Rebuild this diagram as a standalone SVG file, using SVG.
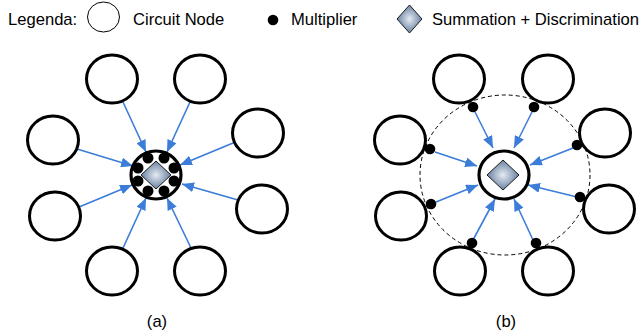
<svg xmlns="http://www.w3.org/2000/svg" width="639" height="333" viewBox="0 0 639 333">
<style>
.node{fill:#fff;stroke:#000;stroke-width:3}
.hub{fill:#fff;stroke:#000;stroke-width:3.2}
.dot{fill:#000}
.dia{fill:url(#g);stroke:#1a1a1a;stroke-width:1}
.arr{stroke:#3b7dd8;stroke-width:1.6;fill:none;marker-end:url(#ah)}
.t{font-family:"Liberation Sans",Arial,sans-serif;font-size:16.6px;fill:#000}
</style>
<defs>
<radialGradient id="g" cx="50%" cy="50%" r="60%">
<stop offset="0" stop-color="#e6ebf1"/>
<stop offset="1" stop-color="#4d6b92"/>
</radialGradient>
<marker id="ah" markerUnits="userSpaceOnUse" markerWidth="12" markerHeight="10" refX="12" refY="5" orient="auto">
<path d="M0,0 L12,5 L0,10 z" fill="#3b7dd8"/>
</marker>
</defs>
<rect width="639" height="333" fill="#fff"/>
<g id="legend">
<text class="t" x="8" y="25">Legenda:</text>
<ellipse cx="103.5" cy="17" rx="16" ry="15" fill="#fff" stroke="#000" stroke-width="1"/>
<text class="t" x="133" y="25">Circuit Node</text>
<circle class="dot" cx="273" cy="20" r="5.3"/>
<text class="t" x="291" y="25">Multiplier</text>
<path class="dia" d="M409.5,5 L422,19 L409.5,33 L397,19 z"/>
<text class="t" x="432" y="25">Summation + Discrimination</text>
</g>
<g id="connectors">
<line class="arr" x1="123" y1="102" x2="146" y2="152"/>
<line class="arr" x1="190" y1="102" x2="167" y2="152"/>
<line class="arr" x1="77" y1="149" x2="133" y2="166"/>
<line class="arr" x1="79" y1="207" x2="132" y2="185"/>
<line class="arr" x1="233" y1="143" x2="180" y2="165"/>
<line class="arr" x1="238" y1="200" x2="182" y2="184"/>
<line class="arr" x1="123" y1="248" x2="146" y2="198"/>
<line class="arr" x1="191" y1="248" x2="167" y2="198"/>
<line class="arr" x1="475" y1="112" x2="493" y2="148"/>
<line class="arr" x1="532" y1="112" x2="514" y2="148"/>
<line class="arr" x1="435" y1="152" x2="477" y2="166"/>
<line class="arr" x1="436" y1="202" x2="478" y2="185"/>
<line class="arr" x1="573" y1="148" x2="530" y2="165"/>
<line class="arr" x1="577" y1="197" x2="528" y2="185"/>
<line class="arr" x1="473" y1="240" x2="495" y2="199"/>
<line class="arr" x1="533" y1="240" x2="514" y2="199"/>
</g>
<g id="diagram-a">
<g id="a-n1"><ellipse class="node" cx="112" cy="79" rx="25.5" ry="24"/></g>
<g id="a-n2"><ellipse class="node" cx="200" cy="79" rx="25.5" ry="24"/></g>
<g id="a-n3"><ellipse class="node" cx="53" cy="140" rx="25.5" ry="24"/></g>
<g id="a-n4"><ellipse class="node" cx="258" cy="133" rx="25.5" ry="24"/></g>
<g id="a-n5"><ellipse class="node" cx="55" cy="216" rx="25.5" ry="24"/></g>
<g id="a-n6"><ellipse class="node" cx="262" cy="209" rx="25.5" ry="24"/></g>
<g id="a-n7"><ellipse class="node" cx="112" cy="271" rx="25.5" ry="24"/></g>
<g id="a-n8"><ellipse class="node" cx="200" cy="271" rx="25.5" ry="24"/></g>
<g id="a-hub">
<ellipse class="hub" cx="156" cy="175" rx="25" ry="24"/>
<circle class="dot" cx="148" cy="158" r="5.5"/>
<circle class="dot" cx="164" cy="158" r="5.5"/>
<circle class="dot" cx="174" cy="168" r="5.5"/>
<circle class="dot" cx="174" cy="181" r="5.5"/>
<circle class="dot" cx="164" cy="191" r="5.5"/>
<circle class="dot" cx="148" cy="191" r="5.5"/>
<circle class="dot" cx="138" cy="181" r="5.5"/>
<circle class="dot" cx="138" cy="168" r="5.5"/>
<path class="dia" d="M156,161 L171,175 L156,189 L141,175 z"/>
</g>
<text class="t" x="157" y="327" text-anchor="middle">(a)</text>
</g>
<g id="diagram-b">
<ellipse cx="505" cy="175" rx="85" ry="80" fill="none" stroke="#000" stroke-width="1" stroke-dasharray="4,3"/>
<g id="b-n1"><ellipse class="node" cx="459" cy="79" rx="25.5" ry="24"/></g>
<g id="b-n2"><ellipse class="node" cx="548" cy="79" rx="25.5" ry="24"/></g>
<g id="b-n3"><ellipse class="node" cx="400" cy="140" rx="25.5" ry="24"/></g>
<g id="b-n4"><ellipse class="node" cx="605" cy="133" rx="25.5" ry="24"/></g>
<g id="b-n5"><ellipse class="node" cx="401" cy="216" rx="25.5" ry="24"/></g>
<g id="b-n6"><ellipse class="node" cx="609" cy="209" rx="25.5" ry="24"/></g>
<g id="b-n7"><ellipse class="node" cx="460" cy="271" rx="25.5" ry="24"/></g>
<g id="b-n8"><ellipse class="node" cx="548" cy="271" rx="25.5" ry="24"/></g>
<g id="b-mult">
<circle class="dot" cx="473" cy="107" r="5.3"/>
<circle class="dot" cx="534" cy="107" r="5.3"/>
<circle class="dot" cx="430" cy="149" r="5.3"/>
<circle class="dot" cx="577" cy="145" r="5.3"/>
<circle class="dot" cx="431" cy="204" r="5.3"/>
<circle class="dot" cx="580" cy="197" r="5.3"/>
<circle class="dot" cx="472" cy="243" r="5.3"/>
<circle class="dot" cx="536" cy="243" r="5.3"/>
</g>
<g id="b-hub">
<ellipse class="hub" cx="504" cy="175" rx="25" ry="24"/>
<path class="dia" d="M503,160 L519,175 L503,190 L487,175 z"/>
</g>
<text class="t" x="506" y="327" text-anchor="middle">(b)</text>
</g>
</svg>
